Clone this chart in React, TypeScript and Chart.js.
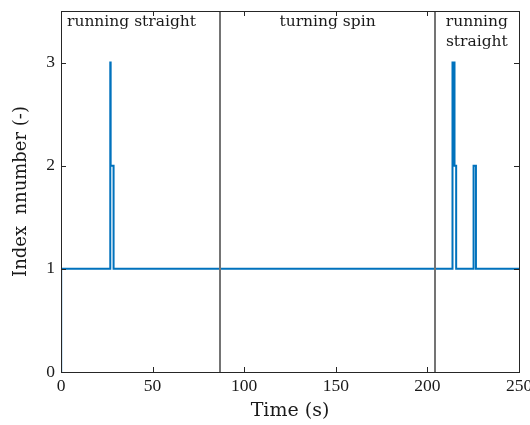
import React, { useEffect, useRef } from "react";
import { Chart, registerables } from "chart.js";

Chart.register(...registerables);

// ---- data ----
const times = [0, 0.1, 26.9, 27.1, 28.7, 213.7, 214.8, 215.7, 225.2, 226.5, 250];
const indexValues = [0, 1, 3, 2, 1, 3, 2, 1, 2, 1, 1];
const xTicks = [0, 50, 100, 150, 200, 250];
const yTicks = [0, 1, 2, 3];
const phaseBoundaries = [87, 204];
const phaseLabels = [["running straight"], ["turning spin"], ["running", "straight"]];
const xTitle = "Time (s)";
const yTitle = "Index  nnumber (-)";
const xMin = 0;
const xMax = 250;
const yMin = 0;
const yMax = 3.5;

const TEXT = "#1a1a1a";
const SERIF = "'DejaVu Serif', serif";
const TICK_FONT = "'Liberation Serif', serif";

const overlayPlugin = {
  id: "overlay",
  afterDatasetsDraw(chart: any) {
    const { ctx, chartArea, scales } = chart;
    const xs = scales.x;
    const ys = scales.y;
    const { left, right, top, bottom } = chartArea;
    ctx.save();

    // phase boundaries
    ctx.strokeStyle = "#747474";
    ctx.lineWidth = 2;
    phaseBoundaries.forEach((b) => {
      const px = Math.round(xs.getPixelForValue(b));
      ctx.beginPath();
      ctx.moveTo(px, top);
      ctx.lineTo(px, bottom);
      ctx.stroke();
    });

    // frame
    ctx.strokeStyle = "#262626";
    ctx.lineWidth = 1;
    ctx.strokeRect(Math.round(left) + 0.5, Math.round(top) + 0.5, Math.round(right - left), Math.round(bottom - top));

    // inward ticks on all sides
    const tl = 5;
    ctx.beginPath();
    xTicks.forEach((v) => {
      const px = Math.round(xs.getPixelForValue(v)) + 0.5;
      ctx.moveTo(px, bottom);
      ctx.lineTo(px, bottom - tl);
      ctx.moveTo(px, top);
      ctx.lineTo(px, top + tl);
    });
    yTicks.forEach((v) => {
      const py = Math.round(ys.getPixelForValue(v)) + 0.5;
      ctx.moveTo(left, py);
      ctx.lineTo(left + tl, py);
      ctx.moveTo(right, py);
      ctx.lineTo(right - tl, py);
    });
    ctx.stroke();

    // phase labels
    const bounds = [xMin, ...phaseBoundaries, xMax];
    ctx.fillStyle = TEXT;
    ctx.font = `15.5px ${SERIF}`;
    ctx.textBaseline = "alphabetic";
    phaseLabels.forEach((lines, i) => {
      const x0 = xs.getPixelForValue(bounds[i]);
      const x1 = xs.getPixelForValue(bounds[i + 1]);
      lines.forEach((line, j) => {
        const y = top + 15 + j * 20;
        if (i === 0) {
          ctx.textAlign = "left";
          ctx.fillText(line, x0 + 6, y);
        } else {
          ctx.textAlign = "center";
          ctx.fillText(line, (x0 + x1) / 2, y);
        }
      });
    });
    ctx.restore();
  },
};

export default function App() {
  const ref = useRef<HTMLCanvasElement | null>(null);

  useEffect(() => {
    document.body.style.margin = "0";
    const canvas = ref.current;
    if (!canvas) return;
    const points = times.map((t, i) => ({ x: t, y: indexValues[i] }));
    const chart = new Chart(canvas, {
      type: "scatter",
      data: {
        datasets: [
          {
            data: points,
            showLine: true,
            stepped: true,
            borderColor: "#0072BD",
            backgroundColor: "#0072BD",
            borderWidth: 2,
            pointRadius: 0,
            pointHoverRadius: 0,
          } as any,
        ],
      },
      options: {
        animation: false,
        responsive: false,
        devicePixelRatio: 1,
        layout: { padding: { top: 11, right: 11, left: 0, bottom: 0 } },
        plugins: { legend: { display: false }, tooltip: { enabled: false } },
        events: [],
        scales: {
          x: {
            type: "linear",
            min: xMin,
            max: xMax,
            grid: { display: false, drawTicks: false },
            border: { display: false },
            afterBuildTicks: (s: any) => {
              s.ticks = xTicks.map((v) => ({ value: v }));
            },
            afterFit: (s: any) => {
              s.height = 53;
              s.paddingLeft = 0;
              s.paddingRight = 0;
            },
            ticks: {
              color: TEXT,
              font: { family: TICK_FONT, size: 17.5 },
              padding: 4,
              maxRotation: 0,
              autoSkip: false,
            },
            title: {
              display: true,
              text: xTitle,
              color: TEXT,
              font: { family: SERIF, size: 19 },
              padding: { top: 0, bottom: 3 },
            },
          },
          y: {
            type: "linear",
            min: yMin,
            max: yMax,
            grid: { display: false, drawTicks: false },
            border: { display: false },
            afterBuildTicks: (s: any) => {
              s.ticks = yTicks.map((v) => ({ value: v }));
            },
            afterFit: (s: any) => {
              s.width = 61;
              s.paddingTop = 0;
              s.paddingBottom = 0;
            },
            ticks: {
              color: TEXT,
              font: { family: TICK_FONT, size: 17.5 },
              padding: 6,
              autoSkip: false,
            },
            title: {
              display: true,
              text: yTitle,
              color: TEXT,
              font: { family: SERIF, size: 18 },
              padding: { top: 11, bottom: 0 },
            },
          },
        },
      },
      plugins: [overlayPlugin],
    });
    return () => chart.destroy();
  }, []);

  return (
    <div style={{ width: 530, height: 425 }}>
      <canvas ref={ref} width={530} height={425} style={{ display: "block" }} />
    </div>
  );
}
